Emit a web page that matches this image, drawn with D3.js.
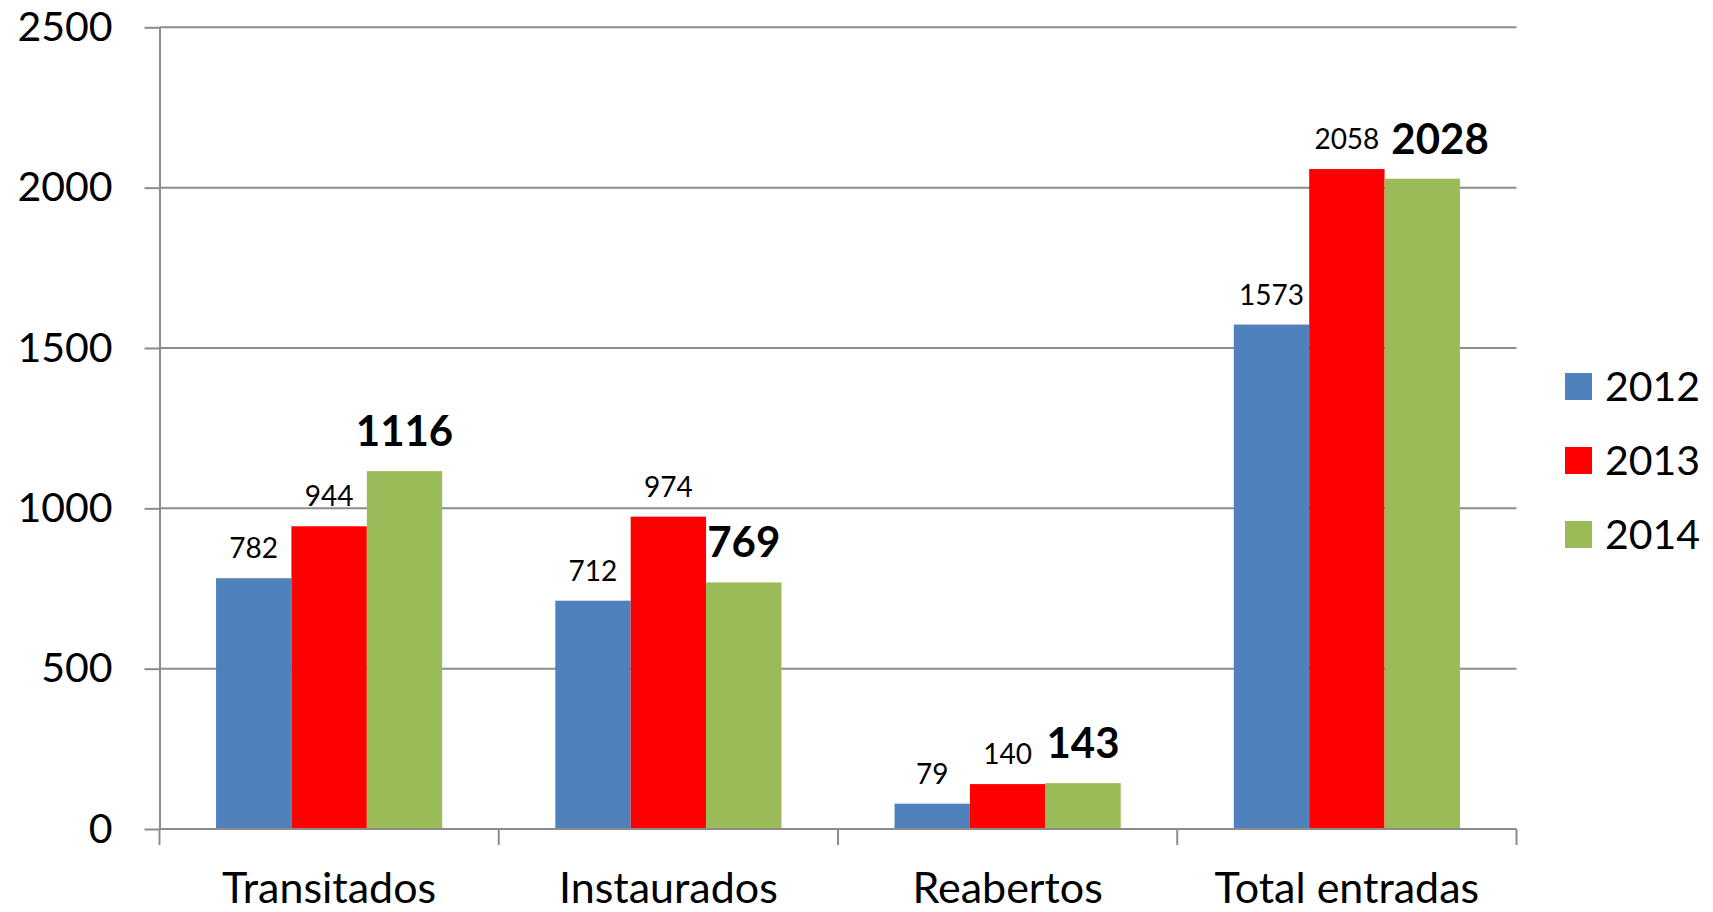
<!DOCTYPE html>
<html><head><meta charset="utf-8">
<script src="https://cdn.jsdelivr.net/npm/d3@7"></script>
<style>body{margin:0;background:#fff}svg{display:block}text{font-family:Lato,"Open Sans",sans-serif;fill:#000}</style>
</head><body>
<script>
const categories = ["Transitados","Instaurados","Reabertos","Total entradas"];
const seriesNames = ["2012","2013","2014"];
const values2012 = [782, 712, 79, 1573];
const values2013 = [944, 974, 140, 2058];
const values2014 = [1116, 769, 143, 2028];
const yTicks = [0, 500, 1000, 1500, 2000, 2500];

const seriesValues = [values2012, values2013, values2014];
const colors = ["#4F81BD", "#FF0000", "#9BBB59"];
const W = 1713, H = 912;
const mLeft = 159.5, mRight = 1516.5, mTop = 27.3, mBottom = 829;

const svg = d3.select("body").append("svg").attr("width", W).attr("height", H);

const x = d3.scaleBand().domain(categories).range([mLeft, mRight]).paddingInner(0).paddingOuter(0);
const y = d3.scaleLinear().domain([0, 2500]).range([mBottom, mTop]);
const barW = x.bandwidth() / 4.5;
const xs = d3.scaleBand().domain(seriesNames).range([0, barW * 3]);

// gridlines
svg.append("g").selectAll("line").data(yTicks.filter(d => d > 0)).join("line")
  .attr("x1", mLeft).attr("x2", mRight).attr("y1", d => y(d)).attr("y2", d => y(d))
  .attr("stroke", "#8c8c8c").attr("stroke-width", 2);

// y axis
const yAxis = d3.axisLeft(y).tickValues(yTicks).tickFormat(d3.format("d")).tickSize(15).tickPadding(32).tickSizeOuter(0);
const ya = svg.append("g").attr("transform", `translate(${mLeft},0)`).call(yAxis);
ya.selectAll("path, line").attr("stroke", "#8c8c8c").attr("stroke-width", 2);
ya.selectAll("text").attr("font-size", 41).attr("font-family", "Lato").attr("fill", "#000");

const rowData = i => seriesNames.map((s, j) => ({s, j, v: seriesValues[j][i]}));

// bars
const groups = svg.append("g").selectAll("g").data(categories).join("g")
  .attr("transform", c => `translate(${x(c) + (x.bandwidth() - barW * 3) / 2},0)`);
groups.each(function(c, i) {
  const g = d3.select(this);
  g.selectAll("rect").data(rowData(i)).join("rect")
    .attr("x", d => xs(d.s)).attr("width", xs.bandwidth())
    .attr("y", d => y(d.v)).attr("height", d => y(0) - y(d.v))
    .attr("fill", d => colors[d.j]);
  const labels = g.selectAll("text").data(rowData(i)).join("text")
    .attr("x", d => xs(d.s) + xs.bandwidth() / 2)
    .attr("y", d => y(d.v) - (d.j === 2 ? 25 : 20))
    .attr("text-anchor", "middle")
    .attr("font-size", d => d.j === 2 ? 42 : 28)
    .attr("font-weight", d => d.j === 2 ? "bold" : "normal")
    .text(d => d.v);
  // avoid overlap: push later labels right when they collide with previous one
  const nodes = labels.nodes();
  for (let k = 1; k < nodes.length; k++) {
    const a = nodes[k - 1].getBBox(), b = nodes[k].getBBox();
    const vOverlap = !(b.y > a.y + a.height || a.y > b.y + b.height);
    const gap = 12;
    if (vOverlap && b.x < a.x + a.width + gap) {
      const shift = a.x + a.width + gap - b.x;
      nodes[k].setAttribute("x", +nodes[k].getAttribute("x") + shift);
    }
  }
});

// x axis
const xAxis = d3.axisBottom(x).tickSize(0).tickPadding(0);
const xa = svg.append("g").attr("transform", `translate(0,${mBottom})`).call(xAxis);
xa.select("path").attr("stroke", "#8c8c8c").attr("stroke-width", 2).attr("d", `M${mLeft},0H${mRight}`);
xa.selectAll("text").attr("font-size", 43).attr("font-family", "Lato").attr("fill", "#000").attr("dy", null).attr("y", 74);
svg.append("g").selectAll("line").data(d3.range(categories.length + 1)).join("line")
  .attr("x1", i => mLeft + i * x.bandwidth()).attr("x2", i => mLeft + i * x.bandwidth())
  .attr("y1", mBottom).attr("y2", mBottom + 16).attr("stroke", "#8c8c8c").attr("stroke-width", 2);

// legend
const lg = svg.append("g").selectAll("g").data(seriesNames).join("g")
  .attr("transform", (d, i) => `translate(1565,${373 + i * 74})`);
lg.append("rect").attr("width", 27).attr("height", 27).attr("fill", (d, i) => colors[i]);
lg.append("text").attr("x", 40).attr("y", 28).attr("font-size", 41).text(d => d);
</script>
</body></html>
